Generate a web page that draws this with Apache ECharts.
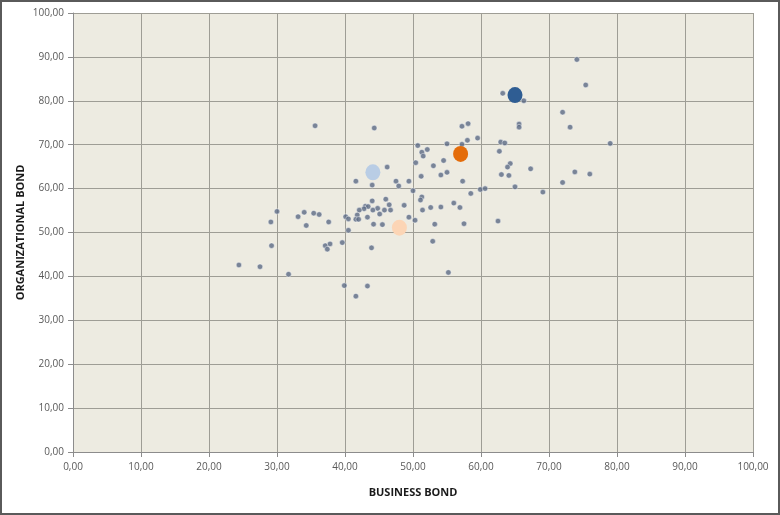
<!DOCTYPE html>
<html>
<head>
<meta charset="utf-8">
<script src="https://cdn.jsdelivr.net/npm/echarts@6/dist/echarts.min.js"></script>
<style>
html,body{margin:0;padding:0;background:#fff;}
#c{width:780px;height:515px;}
</style>
</head>
<body>
<div id="c"></div>
<script>
// Small points: business bond (x) and organizational bond (y)
var businessBond = [24.4,27.5,31.7,29.2,29.1,30.0,33.1,34.0,34.3,35.4,36.2,37.6,40.1,40.5,40.5,39.6,37.1,37.8,37.4,39.9,
  35.6,44.3,50.7,51.3,51.5,52.1,50.4,55.0,58.0,57.2,58.1,54.5,53.0,51.2,54.1,55.0,46.2,41.6,44.0,47.5,
  47.9,49.4,50.0,51.3,51.1,51.4,52.6,54.1,56.0,56.9,46.0,46.5,44.0,43.0,43.4,42.8,42.1,44.8,44.1,45.8,
  46.7,48.7,45.1,41.8,41.6,42.0,43.3,44.2,45.5,49.4,50.3,53.2,57.5,43.9,52.9,55.2,43.3,41.6,59.5,65.6,
  65.6,73.1,62.9,63.5,62.7,64.3,63.9,63.0,64.1,67.3,73.8,72.0,65.0,69.1,59.9,60.6,58.5,57.3,62.5,74.1,
  75.4,72.0,79.0,76.0,63.2,66.3,57.2];
var organizationalBond = [42.6,42.2,40.5,47.0,52.4,54.8,53.6,54.6,51.6,54.4,54.1,52.4,53.6,53.1,50.5,47.7,47.0,47.4,46.2,37.9,
  74.3,73.8,69.8,68.3,67.4,68.9,65.9,70.2,71.0,74.2,74.8,66.4,65.2,62.8,63.1,63.7,64.9,61.7,60.8,61.7,
  60.6,61.7,59.5,58.1,57.4,55.1,55.7,55.8,56.7,55.7,57.6,56.3,57.2,56.0,55.9,55.4,55.1,55.5,55.1,55.1,
  55.1,56.2,54.2,54.0,53.0,53.0,53.5,51.9,51.8,53.5,52.8,51.9,52.0,46.5,48.0,40.9,37.8,35.5,71.5,74.7,
  74.0,74.0,70.6,70.4,68.5,65.7,64.9,63.2,63.0,64.5,63.8,61.4,60.4,59.2,59.8,60.0,58.9,61.7,52.6,89.4,
  83.6,77.4,70.3,63.3,81.7,80.0,70.1];

// Highlighted (large) points
var highlightX = [65.0, 57.0, 44.1, 48.0];
var highlightY = [81.3, 67.9, 63.7, 51.1];
var highlightColors = ['#2F5D93', '#E46C0A', '#B9CDE5', '#FCD5B5'];

var smallData = businessBond.map(function(x,i){ return [x, organizationalBond[i]]; });
var bigData = highlightX.map(function(x,i){
  return { value:[x, highlightY[i]], itemStyle:{ color: highlightColors[i] } };
});

function fmt(v){ return v.toFixed(2).replace('.', ','); }

var font = 'Open Sans';
var chart = echarts.init(document.getElementById('c'), null, {renderer:'canvas'});
chart.setOption({
  animation:false,
  backgroundColor:'#ffffff',
  grid:{ left:73, right:27, top:13, bottom:63, show:true, backgroundColor:'#EDEBE1', borderWidth:0 },
  xAxis:{
    type:'value', min:0, max:100, interval:10,
    name:'BUSINESS BOND', nameLocation:'middle', nameGap:35, nameMoveOverlap:false,
    nameTextStyle:{ fontFamily:font, fontWeight:'bold', fontSize:11, color:'#1a1a1a' },
    axisLine:{ show:true, lineStyle:{ color:'#8C8C8C', width:1 } },
    axisTick:{ show:true, length:5, lineStyle:{ color:'#8C8C8C' } },
    axisLabel:{ formatter:fmt, fontFamily:font, fontSize:10, color:'#595959', margin:10 },
    splitLine:{ show:true, lineStyle:{ color:'#9E9D95', width:1 } }
  },
  yAxis:{
    type:'value', min:0, max:100, interval:10,
    name:'ORGANIZATIONAL BOND', nameLocation:'middle', nameGap:47, nameRotate:90, nameMoveOverlap:false,
    nameTextStyle:{ fontFamily:font, fontWeight:'bold', fontSize:11, color:'#1a1a1a' },
    axisLine:{ show:true, lineStyle:{ color:'#8C8C8C', width:1 } },
    axisTick:{ show:true, length:5, lineStyle:{ color:'#8C8C8C' } },
    axisLabel:{ formatter:fmt, fontFamily:font, fontSize:10, color:'#595959', margin:9 },
    splitLine:{ show:true, lineStyle:{ color:'#9E9D95', width:1 } }
  },
  graphic:[{
    type:'rect', silent:true, z:100,
    shape:{ x:1, y:1, width:778, height:513 },
    style:{ fill:null, stroke:'#5A5A5A', lineWidth:2 }
  }],
  series:[
    {
      type:'scatter', data:smallData, symbol:'circle', symbolSize:5.5,
      itemStyle:{ color:'#5B6A85', borderColor:'rgba(255,255,255,0.55)', borderWidth:1 },
      z:3
    },
    {
      type:'scatter', data:bigData, symbol:'circle', symbolSize:[15,16],
      itemStyle:{ opacity:1 },
      z:4
    }
  ]
});
</script>
</body>
</html>
